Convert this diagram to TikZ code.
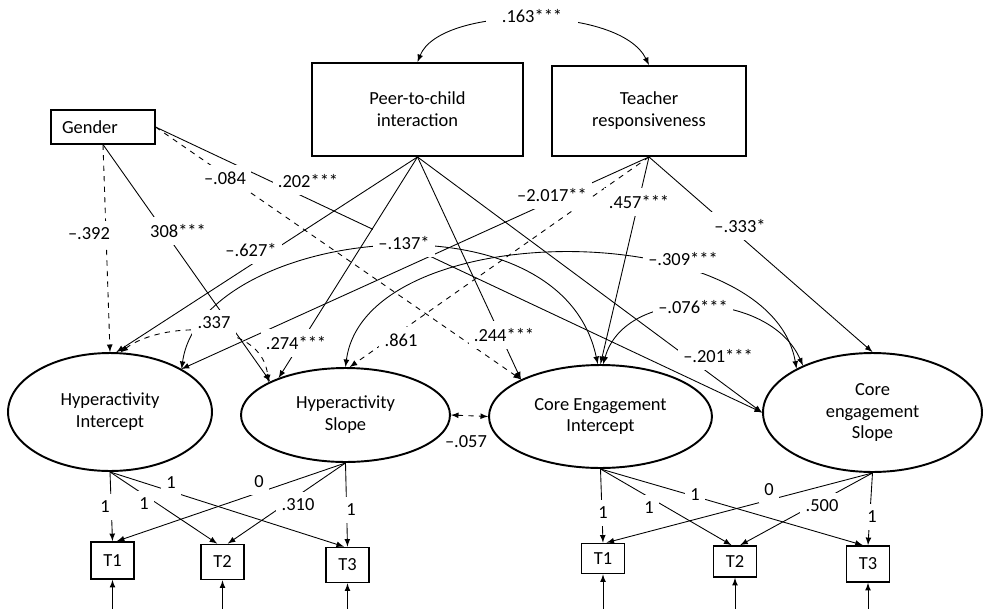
\documentclass[tikz,border=0pt]{standalone}
\usepackage{fontspec}
\setmainfont{Carlito}
\usepackage{tikz}
\newcommand{\mn}{\textendash}
\newcommand{\lPeer}{Peer-to-child\\interaction}
\newcommand{\lTeacher}{Teacher\\responsiveness}
\usetikzlibrary{shapes.geometric, calc}

\begin{document}
\begin{tikzpicture} [
        x=0.02cm, y=-0.02cm,
        font=\fontsize{10.5}{12.5}\selectfont,
        gender box/.style={draw, line width=0.6pt, minimum height=0.68cm, text width=1.64cm, inner xsep=0.22cm, inner ysep=0pt, align=left},
        predictor/.style={draw, line width=1.1pt, inner sep=0pt, align=center},
        latent/.style={draw, ellipse, line width=1.1pt, inner sep=0pt, align=center},
        obs/.style={draw, line width=1pt, minimum width=0.86cm, minimum height=0.74cm, inner sep=0pt},
        effect/.style={-latex, line width=0.5pt},
        effect ns/.style={effect, dashed},
        cov/.style={latex-latex, line width=0.5pt},
        cov ns/.style={cov, dashed},
        load/.style={-latex, line width=0.5pt},
        coef/.style={fill=white, inner xsep=3pt, inner ysep=4pt},
    ]
    \useasboundingbox (0,0) rectangle (985,609);

    % predictors
    \path (103,127) node[gender box] (gender) {Gender};
    \path (417.5,109.5) node[predictor, minimum width=4.22cm, minimum height=1.86cm] (peer) {\lPeer};
    \path (649,111) node[predictor, minimum width=3.88cm, minimum height=1.8cm] (teacher) {\lTeacher};

    % growth factors
    \path (110,412) node[latent, minimum width=4.08cm, minimum height=2.36cm] (hi) {Hyperactivity\\Intercept};
    \path (345.5,415) node[latent, minimum width=4.18cm, minimum height=1.88cm] (hs) {Hyperactivity\\Slope};
    \path (600.5,416.5) node[latent, minimum width=4.46cm, minimum height=2.06cm] (cei) {Core Engagement\\Intercept};
    \path (872.5,412.5) node[latent, minimum width=4.38cm, minimum height=2.38cm] (ces) {Core\\engagement\\Slope};

    % time points
    \path (112.5,560.5) node[obs] (hT1) {T1};
    \path (222.5,562) node[obs, minimum height=0.7cm] (hT2) {T2};
    \path (347.5,565) node[obs, minimum height=0.7cm] (hT3) {T3};
    \path (603,558.5) node[obs, minimum height=0.6cm] (cT1) {T1};
    \path (735,561.5) node[obs, minimum height=0.62cm] (cT2) {T2};
    \path (868,564) node[obs, minimum height=0.72cm] (cT3) {T3};

    \coordinate (hE1) at (112.5,609);
    \coordinate (hE2) at (222.5,609);
    \coordinate (hE3) at (347.5,609);
    \coordinate (cE1) at (603,609);
    \coordinate (cE2) at (735,609);
    \coordinate (cE3) at (868,609);

    \draw[cov] (peer.north) .. controls (440,5) and (620,5) .. (teacher.north);

    \draw[effect ns] (gender.south) -- (hi.north);
    \draw[effect] (gender.south) -- (hs.156);
    \draw[effect ns] (gender.east) -- (cei.155);
    \draw[effect] (gender.east) -- (ces.west);

    \draw[effect] (peer.south) -- (hi.84);
    \draw[effect] (peer.south) -- (hs.151);
    \draw[effect] (peer.south) -- (cei.155);
    \draw[effect] (peer.south) -- (ces.west);

    \draw[effect] (teacher.south) -- (hi.31);
    \draw[effect ns] (teacher.south) -- (hs.85);
    \draw[effect] (teacher.south) -- (cei.north);
    \draw[effect] (teacher.south) -- (ces.north);

    \draw[cov ns] (hi.80) .. controls (160,322) and (262,318) .. (hs.157);
    \draw[cov] (hi.31) .. controls (200,230) and (560,185) .. (cei.93);
    \draw[cov] (hs.north) .. controls (365,215) and (770,215) .. (ces.150);
    \draw[cov] (cei.87) .. controls (625,285) and (770,290) .. (ces.146);
    \draw[cov ns] (hs.east) -- (cei.west);

    \draw[load] (hi.south) -- (hT1.north);
    \draw[load] (hi.south) -- ([xshift=-3pt]hT2.north);
    \draw[load] (hi.south) -- ([xshift=-2pt]hT3.north);
    \draw[load] (hs.south) -- ([xshift=2.5pt]hT1.north);
    \draw[load] (hs.south) -- ([xshift=3pt]hT2.north);
    \draw[load] (hs.south) -- (hT3.north);
    \draw[load] (cei.south) -- (cT1.north);
    \draw[load] (cei.south) -- ([xshift=-2pt]cT2.north);
    \draw[load] (cei.south) -- ([xshift=-3pt]cT3.north);
    \draw[load] (ces.south) -- ([xshift=2pt]cT1.north);
    \draw[load] (ces.south) -- ([xshift=3pt]cT2.north);
    \draw[load] (ces.south) -- (cT3.north);

    \draw[load] (hE1) -- (hT1);
    \draw[load] (hE2) -- (hT2);
    \draw[load] (hE3) -- (hT3);
    \draw[load] (cE1) -- (cT1);
    \draw[load] (cE2) -- (cT2);
    \draw[load] (cE3) -- (cT3);

    % coefficients
    \path (532,16) node[coef, inner xsep=9pt] {.163***};
    \path (89,234) node[coef] {\mn.392};
    \path (178,231) node[coef] {308***};
    \path (225,178) node[coef] {\mn.084};
    \path (308,181) node[coef] {.202***};
    \path (251,250) node[coef] {\mn.627*};
    \path (404,243) node[coef] {\mn.137*};
    \path (552,195) node[coef] {\mn2.017**};
    \path (639,202) node[coef] {.457***};
    \path (740,226) node[coef] {\mn.333*};
    \path (683,259) node[coef] {\mn.309***};
    \path (693,307) node[coef] {\mn.076***};
    \path (718,356) node[coef] {\mn.201***};
    \path (214,323) node[coef] {.337};
    \path (296,343) node[coef] {.274***};
    \path (401,340) node[coef] {.861};
    \path (504,335) node[coef] {.244***};
    \path (466,442) node[coef, fill=none] {\mn.057};

    \path (105,507) node[coef] {1};
    \path (144,504) node[coef] {1};
    \path (171,483) node[coef] {1};
    \path (259,482) node[coef] {0};
    \path (298,505) node[coef] {.310};
    \path (351,510) node[coef] {1};
    \path (603,513) node[coef] {1};
    \path (649,508) node[coef] {1};
    \path (695,495) node[coef] {1};
    \path (769,490) node[coef] {0};
    \path (822,506) node[coef] {.500};
    \path (872,517) node[coef] {1};

\end{tikzpicture}
\end{document}
